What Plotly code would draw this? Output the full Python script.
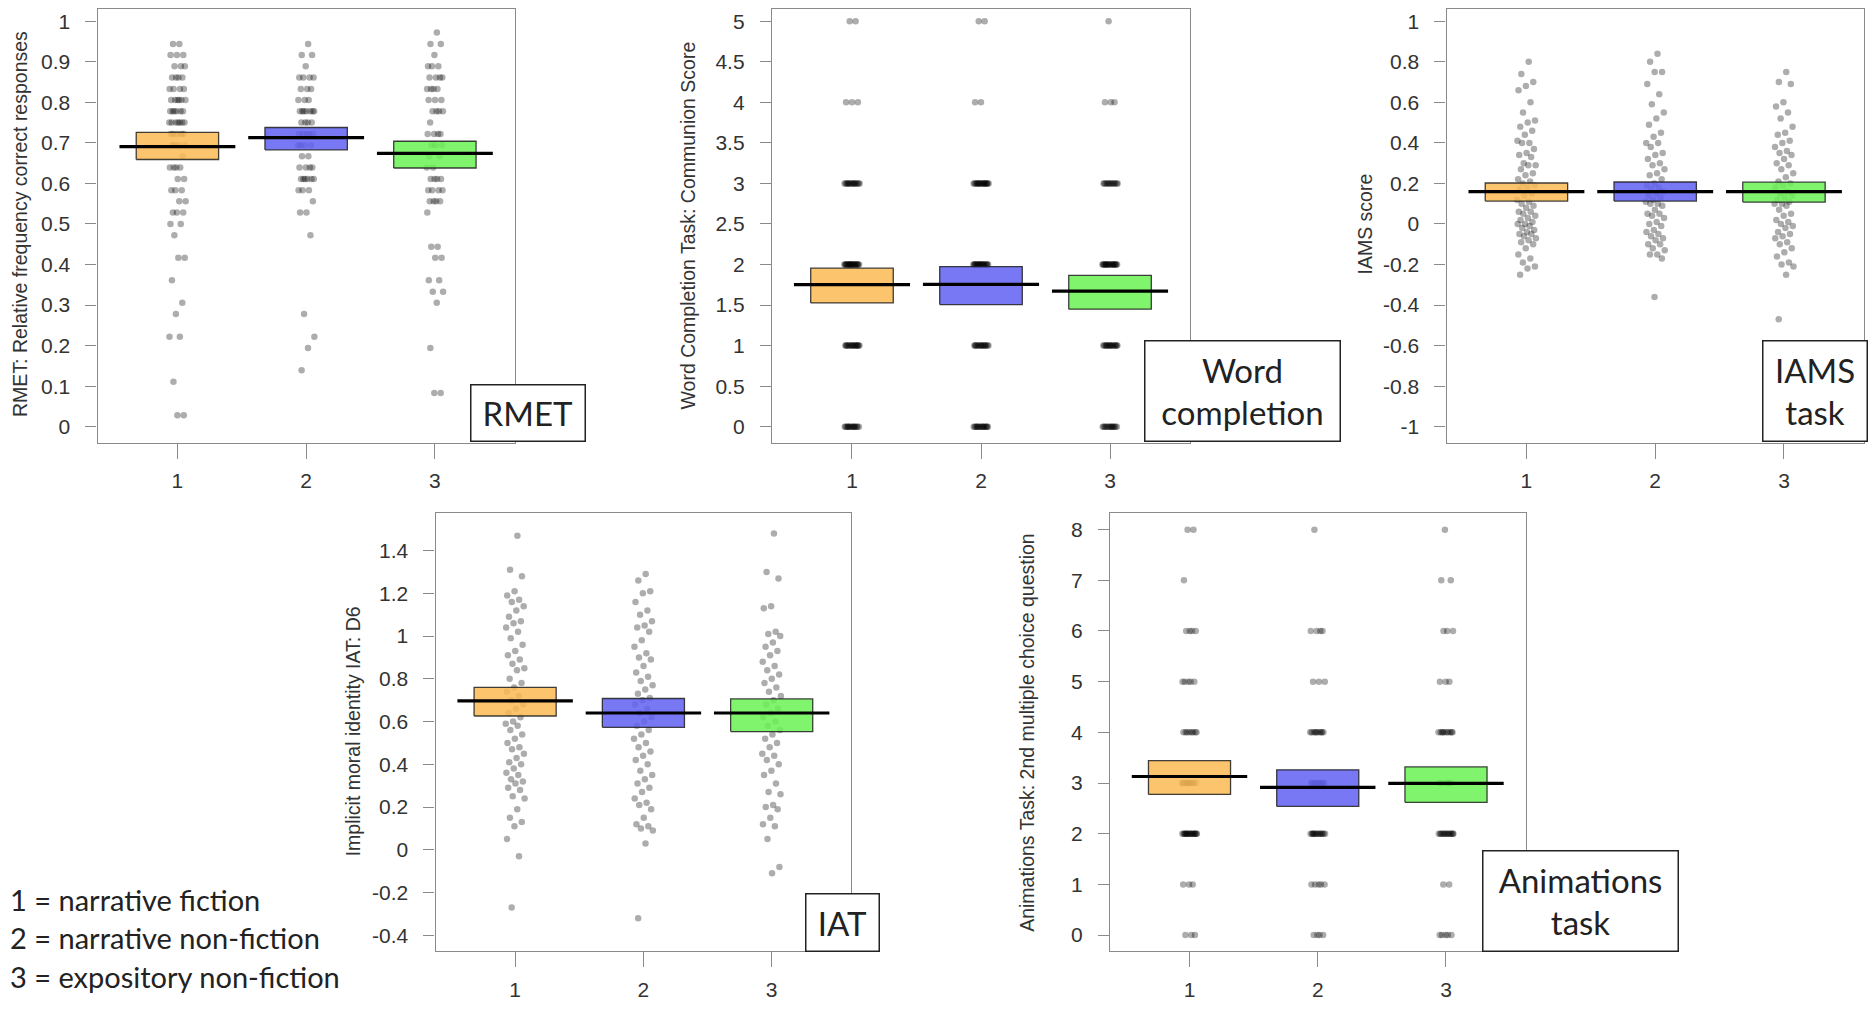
import numpy as np
import plotly.graph_objects as go

W, H = 1876, 1009          # reference picture size
OFF = 8                    # page body margin of the written html
FW, FH = W - 2 * OFF, H - 2 * OFF

# ---------------- data ----------------
groups = [1, 2, 3]
group_labels = ["1", "2", "3"]

# RMET (relative frequency correct, discrete levels) : counts per level per group
rmet_levels = [0.972, 0.944, 0.917, 0.889, 0.861, 0.833, 0.806, 0.778, 0.750, 0.722, 0.694,
               0.667, 0.639, 0.611, 0.583, 0.556, 0.528, 0.500, 0.472, 0.444, 0.417, 0.361,
               0.333, 0.306, 0.278, 0.222, 0.194, 0.139, 0.111, 0.083, 0.028]
rmet_counts_g1 = [0, 2, 3, 3, 4, 4, 6, 6, 7, 5, 4, 1, 4, 2, 3, 2, 3, 2, 1, 0, 2, 1, 0, 1, 1, 2, 0, 0, 1, 0, 2]
rmet_counts_g2 = [0, 1, 2, 1, 4, 3, 3, 7, 4, 5, 4, 2, 4, 6, 3, 1, 2, 0, 1, 0, 0, 0, 0, 0, 1, 1, 1, 1, 0, 0, 0]
rmet_counts_g3 = [1, 2, 1, 3, 4, 4, 3, 4, 1, 4, 3, 2, 2, 4, 4, 4, 1, 0, 0, 2, 2, 2, 2, 1, 0, 0, 1, 0, 0, 2, 0]
rmet_mean = [0.691, 0.713, 0.674]
rmet_lo = [0.659, 0.683, 0.638]
rmet_hi = [0.726, 0.738, 0.704]
rmet_ticks = [0, 0.1, 0.2, 0.3, 0.4, 0.5, 0.6, 0.7, 0.8, 0.9, 1]
rmet_ticklabels = ["0", "0.1", "0.2", "0.3", "0.4", "0.5", "0.6", "0.7", "0.8", "0.9", "1"]

# Word completion (communion score 0-5)
wc_levels = [0, 1, 2, 3, 4, 5]
wc_counts_g1 = [15, 17, 22, 16, 3, 2]
wc_counts_g2 = [16, 16, 20, 19, 2, 2]
wc_counts_g3 = [14, 16, 20, 13, 3, 1]
wc_mean = [1.751, 1.755, 1.673]
wc_lo = [1.527, 1.506, 1.449]
wc_hi = [1.955, 1.975, 1.865]
wc_ticks = [0, 0.5, 1, 1.5, 2, 2.5, 3, 3.5, 4, 4.5, 5]
wc_ticklabels = ["0", "0.5", "1", "1.5", "2", "2.5", "3", "3.5", "4", "4.5", "5"]

# IAMS score (continuous)
iams_g1 = [0.80, 0.74, 0.70, 0.68, 0.66, 0.60, 0.55, 0.51, 0.50, 0.48, 0.46, 0.44, 0.41, 0.40, 0.40,
           0.37, 0.35, 0.34, 0.33, 0.30, 0.29, 0.29, 0.27, 0.25, 0.24, 0.22, 0.21, 0.20, 0.19, 0.18,
           0.17, 0.15, 0.14, 0.12, 0.11, 0.10, 0.09, 0.08, 0.06, 0.06, 0.05, 0.04, 0.03, 0.02, 0.01,
           0.00, 0.00, -0.01, -0.02, -0.03, -0.04, -0.05, -0.05, -0.06, -0.07, -0.08, -0.09, -0.10,
           -0.12, -0.15, -0.17, -0.19, -0.21, -0.22, -0.25]
iams_g2 = [0.84, 0.80, 0.75, 0.75, 0.69, 0.64, 0.59, 0.55, 0.52, 0.49, 0.45, 0.43, 0.40, 0.40, 0.38,
           0.35, 0.34, 0.32, 0.30, 0.29, 0.27, 0.25, 0.24, 0.22, 0.20, 0.19, 0.18, 0.17, 0.16, 0.15,
           0.14, 0.13, 0.12, 0.11, 0.10, 0.10, 0.09, 0.07, 0.05, 0.05, 0.04, 0.03, 0.01, 0.00, -0.01,
           -0.03, -0.04, -0.05, -0.06, -0.07, -0.08, -0.10, -0.10, -0.12, -0.13, -0.15, -0.15, -0.17, -0.36]
iams_g3 = [0.75, 0.70, 0.69, 0.60, 0.58, 0.55, 0.52, 0.48, 0.45, 0.44, 0.41, 0.40, 0.38, 0.36, 0.35,
           0.34, 0.32, 0.30, 0.29, 0.27, 0.25, 0.23, 0.21, 0.20, 0.19, 0.18, 0.16, 0.15, 0.14, 0.13,
           0.12, 0.11, 0.10, 0.10, 0.09, 0.07, 0.05, 0.04, 0.02, 0.01, 0.00, -0.01, -0.02, -0.04, -0.05,
           -0.06, -0.07, -0.09, -0.10, -0.12, -0.14, -0.16, -0.19, -0.20, -0.21, -0.25, -0.47]
iams_mean = [0.160, 0.160, 0.160]
iams_lo = [0.113, 0.113, 0.108]
iams_hi = [0.202, 0.207, 0.206]
iams_ticks = [-1, -0.8, -0.6, -0.4, -0.2, 0, 0.2, 0.4, 0.6, 0.8, 1]
iams_ticklabels = ["-1", "-0.8", "-0.6", "-0.4", "-0.2", "0", "0.2", "0.4", "0.6", "0.8", "1"]

# Implicit moral identity IAT D6 (continuous)
iat_g1 = [1.47, 1.31, 1.28, 1.21, 1.19, 1.17, 1.16, 1.14, 1.12, 1.09, 1.07, 1.06, 1.04, 1.02, 0.99,
          0.96, 0.93, 0.91, 0.89, 0.87, 0.85, 0.84, 0.80, 0.78, 0.76, 0.74, 0.72, 0.70, 0.68, 0.66,
          0.64, 0.62, 0.60, 0.59, 0.58, 0.56, 0.54, 0.52, 0.50, 0.48, 0.47, 0.45, 0.43, 0.41, 0.40,
          0.38, 0.36, 0.35, 0.33, 0.32, 0.31, 0.29, 0.28, 0.25, 0.24, 0.19, 0.15, 0.13, 0.11, 0.05,
          -0.03, -0.27]
iat_g2 = [1.29, 1.26, 1.21, 1.20, 1.16, 1.12, 1.10, 1.07, 1.05, 1.04, 1.02, 0.98, 0.95, 0.92, 0.90,
          0.89, 0.86, 0.83, 0.81, 0.79, 0.77, 0.75, 0.73, 0.71, 0.70, 0.68, 0.66, 0.64, 0.62, 0.60,
          0.58, 0.56, 0.54, 0.52, 0.50, 0.48, 0.46, 0.44, 0.42, 0.40, 0.37, 0.35, 0.33, 0.31, 0.29,
          0.27, 0.24, 0.22, 0.21, 0.19, 0.15, 0.12, 0.11, 0.10, 0.09, 0.03, -0.32]
iat_g3 = [1.48, 1.30, 1.27, 1.14, 1.13, 1.02, 1.01, 1.00, 0.97, 0.95, 0.93, 0.91, 0.88, 0.86, 0.84,
          0.82, 0.80, 0.78, 0.76, 0.74, 0.72, 0.70, 0.68, 0.66, 0.64, 0.62, 0.60, 0.58, 0.56, 0.54,
          0.52, 0.50, 0.48, 0.45, 0.44, 0.42, 0.40, 0.37, 0.35, 0.31, 0.27, 0.26, 0.21, 0.20, 0.19,
          0.15, 0.12, 0.11, 0.05, -0.08, -0.11]
iat_mean = [0.697, 0.640, 0.640]
iat_lo = [0.626, 0.573, 0.553]
iat_hi = [0.760, 0.708, 0.706]
iat_ticks = [-0.4, -0.2, 0, 0.2, 0.4, 0.6, 0.8, 1, 1.2, 1.4]
iat_ticklabels = ["-0.4", "-0.2", "0", "0.2", "0.4", "0.6", "0.8", "1", "1.2", "1.4"]

# Animations task (0-8)
anim_levels = [0, 1, 2, 3, 4, 5, 6, 7, 8]
anim_counts_g1 = [3, 3, 18, 10, 8, 5, 4, 1, 2]
anim_counts_g2 = [4, 5, 14, 8, 10, 3, 4, 0, 1]
anim_counts_g3 = [5, 2, 14, 6, 10, 3, 3, 2, 1]
anim_mean = [3.129, 2.913, 2.992]
anim_lo = [2.776, 2.541, 2.619]
anim_hi = [3.442, 3.260, 3.319]
anim_ticks = [0, 1, 2, 3, 4, 5, 6, 7, 8]
anim_ticklabels = ["0", "1", "2", "3", "4", "5", "6", "7", "8"]

legend_lines = ["1 = narrative fiction", "2 = narrative non-fiction", "3 = expository non-fiction"]

# ---------------- helpers ----------------
def expand(levels, counts):
    return np.repeat(np.array(levels, dtype=float), counts)

def jitter_offsets(n, half):
    k = np.arange(n) + 1
    return ((k * 0.6180339887) % 1.0 - 0.5) * 2 * half

def fx(px):
    return min(max((px - OFF) / FW, 0.0), 1.0)

def fy(py):
    return min(max(1 - (py - OFF) / FH, 0.0), 1.0)

fills = ["rgba(250,186,84,0.85)", "rgba(96,96,243,0.85)", "rgba(106,242,84,0.85)"]

panels = [
    dict(data=[expand(rmet_levels, rmet_counts_g1), expand(rmet_levels, rmet_counts_g2), expand(rmet_levels, rmet_counts_g3)],
         mean=rmet_mean, lo=rmet_lo, hi=rmet_hi, ticks=rmet_ticks, ticklabels=rmet_ticklabels,
         yr=[-0.04, 1.04], px=(97.6, 514.7), py=(4, 445), jit=0.065,
         title="RMET: Relative frequency correct responses", tx=20, ty=224.5,
         box="RMET", bx=(470, 585.5), by=(386, 444)),
    dict(data=[expand(wc_levels, wc_counts_g1), expand(wc_levels, wc_counts_g2), expand(wc_levels, wc_counts_g3)],
         mean=wc_mean, lo=wc_lo, hi=wc_hi, ticks=wc_ticks, ticklabels=wc_ticklabels,
         yr=[-0.2, 5.2], px=(772, 1190), py=(4, 445), jit=0.06,
         title="Word Completion Task: Communion Score", tx=688, ty=226,
         box="Word<br>completion", bx=(1144, 1341), by=(342, 444)),
    dict(data=[np.array(iams_g1), np.array(iams_g2), np.array(iams_g3)],
         mean=iams_mean, lo=iams_lo, hi=iams_hi, ticks=iams_ticks, ticklabels=iams_ticklabels,
         yr=[-1.08, 1.08], px=(1446.6, 1863.8), py=(4, 445), jit=0.075,
         title="IAMS score", tx=1365, ty=225,
         box="IAMS<br>task", bx=(1762, 1868), by=(342, 444)),
    dict(data=[np.array(iat_g1), np.array(iat_g2), np.array(iat_g3)],
         mean=iat_mean, lo=iat_lo, hi=iat_hi, ticks=iat_ticks, ticklabels=iat_ticklabels,
         yr=[-0.475, 1.574], px=(435.6, 851.2), py=(516, 957), jit=0.075,
         title="Implicit moral identity IAT: D6", tx=352.5, ty=736,
         box="IAT", bx=(805, 880), by=(898, 957)),
    dict(data=[expand(anim_levels, anim_counts_g1), expand(anim_levels, anim_counts_g2), expand(anim_levels, anim_counts_g3)],
         mean=anim_mean, lo=anim_lo, hi=anim_hi, ticks=anim_ticks, ticklabels=anim_ticklabels,
         yr=[-0.32, 8.32], px=(1110, 1525.5), py=(516, 957), jit=0.06,
         title="Animations Task: 2nd multiple choice question", tx=1027, ty=737,
         box="Animations<br>task", bx=(1482, 1679), by=(855, 957)),
]

fig = go.Figure()
layout = dict(width=FW, height=FH, margin=dict(l=0, r=0, t=0, b=0),
              paper_bgcolor="white", plot_bgcolor="white", showlegend=False)
annotations = []
tick_font = dict(family="Liberation Sans, Arial", size=21, color="#333333")
frame = "#8a8a8a"

for i, p in enumerate(panels):
    n = i + 1
    xa = "x" if n == 1 else f"x{n}"
    ya = "y" if n == 1 else f"y{n}"
    # raw points
    for g, vals in zip(groups, p["data"]):
        off = jitter_offsets(len(vals), p["jit"])
        fig.add_trace(go.Scatter(x=g + off, y=vals, mode="markers", xaxis=xa, yaxis=ya,
                                 marker=dict(size=6.5, color="rgba(0,0,0,0.32)", line=dict(width=0)),
                                 hoverinfo="skip"))
    # inference bands
    for g, lo, hi, fc in zip(groups, p["lo"], p["hi"], fills):
        fig.add_trace(go.Scatter(x=[g - 0.32, g + 0.32, g + 0.32, g - 0.32, g - 0.32],
                                 y=[lo, lo, hi, hi, lo], mode="lines", fill="toself",
                                 fillcolor=fc, line=dict(color="rgba(30,30,30,0.85)", width=1.3),
                                 xaxis=xa, yaxis=ya, hoverinfo="skip"))
    # means
    for g, m in zip(groups, p["mean"]):
        fig.add_trace(go.Scatter(x=[g - 0.45, g + 0.45], y=[m, m], mode="lines",
                                 line=dict(color="black", width=3.2), xaxis=xa, yaxis=ya,
                                 hoverinfo="skip"))
    # keep pixel scale if the top of the frame falls inside the page margin
    y0, y1 = p["py"]
    ylo, yhi = p["yr"]
    top_px = max(y0, OFF)
    yhi_eff = yhi - (top_px - y0) / (y1 - y0) * (yhi - ylo)
    xk = "xaxis" if n == 1 else f"xaxis{n}"
    yk = "yaxis" if n == 1 else f"yaxis{n}"
    layout[xk] = dict(domain=[fx(p["px"][0]), fx(p["px"][1])], anchor=ya, range=[0.38, 3.62],
                      tickvals=groups, ticktext=group_labels, ticks="outside", ticklen=15,
                      tickwidth=1.3, tickcolor=frame, showline=True, mirror=True, linecolor=frame,
                      linewidth=1.3, showgrid=False, zeroline=False, tickfont=tick_font,
                      ticklabelstandoff=4, fixedrange=True)
    layout[yk] = dict(domain=[fy(y1), fy(top_px)], anchor=xa, range=[ylo, yhi_eff],
                      tickvals=p["ticks"], ticktext=p["ticklabels"], ticks="outside", ticklen=11,
                      tickwidth=1.3, tickcolor=frame, showline=True, mirror=True, linecolor=frame,
                      linewidth=1.3, showgrid=False, zeroline=False, tickfont=tick_font,
                      ticklabelstandoff=11, fixedrange=True)
    annotations.append(dict(text=p["title"], xref="paper", yref="paper", x=fx(p["tx"]),
                            y=fy(p["ty"]), xanchor="center", yanchor="middle", textangle=-90,
                            showarrow=False, font=dict(family="Liberation Sans, Arial", size=19.5, color="#333333")))
    bw = p["bx"][1] - p["bx"][0]
    bh = p["by"][1] - p["by"][0]
    annotations.append(dict(text=p["box"], xref="paper", yref="paper",
                            x=fx((p["bx"][0] + p["bx"][1]) / 2), y=fy((p["by"][0] + p["by"][1]) / 2),
                            xanchor="center", yanchor="middle", showarrow=False,
                            width=bw - 3, height=bh - 3, borderpad=0, borderwidth=1.5,
                            bordercolor="#222222", bgcolor="white", align="center", valign="middle",
                            font=dict(family="Lato", size=33, color="#222222")))

for line, ly in zip(legend_lines, [905, 943, 982]):
    annotations.append(dict(text=line, xref="paper", yref="paper", x=fx(8), y=fy(ly),
                            xanchor="left", yanchor="middle", showarrow=False,
                            font=dict(family="Lato", size=29, color="#222222")))

layout["annotations"] = annotations
fig.update_layout(**layout)
fig.write_html("out.html")
